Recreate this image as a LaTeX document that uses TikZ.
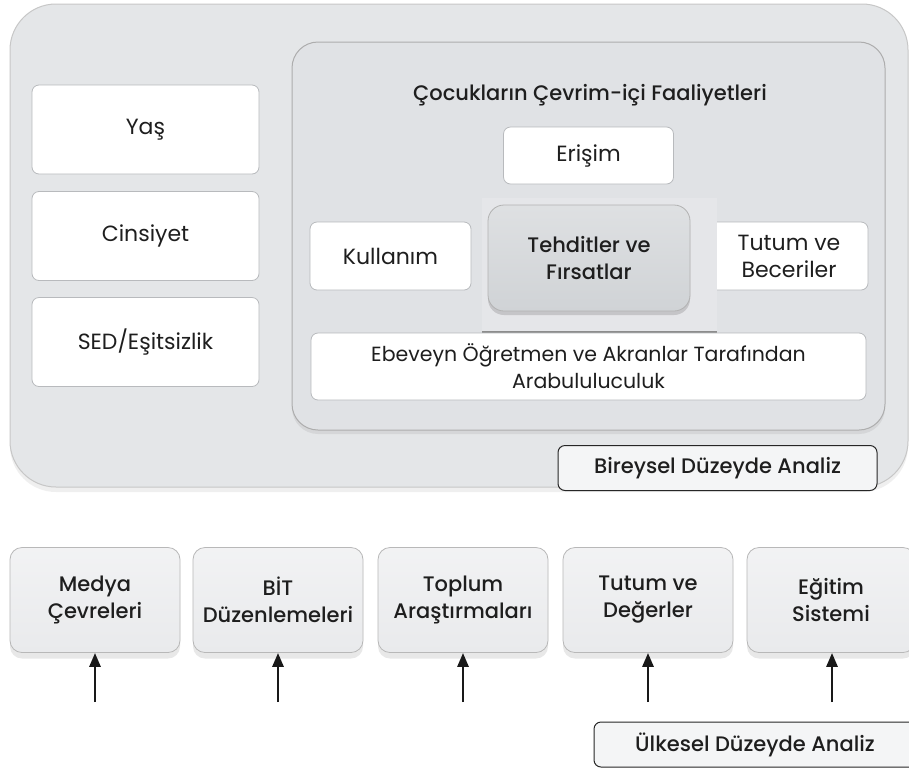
\documentclass[tikz,border=0pt]{standalone}
\usepackage{fontspec}
\setmainfont{Poppins}[BoldFont={Poppins Medium}]
\usetikzlibrary{shadows,arrows.meta}
\definecolor{outerfill}{HTML}{E4E6E8}
\definecolor{innerfill}{HTML}{E0E2E5}
\definecolor{edge}{HTML}{B8BABD}
\definecolor{txt}{HTML}{1E1E1E}
\definecolor{threat}{HTML}{D0D3D6}
\definecolor{botfill}{HTML}{E9EAEC}
\begin{document}
\begin{tikzpicture}[x=1pt,y=-1pt,
  every node/.style={text=txt},
  reg/.style={font=\fontsize{22}{27}\selectfont},
  bld/.style={font=\bfseries\fontsize{21}{27}\selectfont},
  whitebox/.style={draw=edge, fill=white, rounded corners=7pt, line width=0.8pt,
    align=center, inner sep=0pt, reg},
  threatbox/.style={draw=black!30, top color=threat!70, bottom color=threat, rounded corners=16pt,
    line width=0.8pt, align=center, inner sep=0pt, bld,
    drop shadow={shadow xshift=0pt, shadow yshift=-4pt, opacity=0.25, fill=black!60}},
  botbox/.style={draw=black!28, top color=botfill!60, bottom color=botfill, rounded corners=12pt,
    line width=0.8pt, align=center, inner sep=0pt, bld, minimum width=170pt, minimum height=105pt,
    drop shadow={shadow xshift=0pt, shadow yshift=-6pt, opacity=0.18, fill=black!50}},
  labelbox/.style={draw=black!85, fill=white!60!outerfill, rounded corners=7pt, line width=1pt,
    inner sep=0pt, bld},
  arr/.style={line width=2.8pt, -{Triangle[width=11pt,length=14pt]}, black!90}
]
\useasboundingbox (0,0) rectangle (909,769);
\fill[white] (0,0) rectangle (909,769);
% outer panel
\node[draw=black!22, fill=outerfill, rounded corners=46pt, line width=1pt,
  minimum width=898pt, minimum height=483pt, inner sep=0pt,
  drop shadow={shadow xshift=0pt, shadow yshift=-5pt, opacity=0.12, fill=black!50}] (outer) at (459,245.5) {};
% inner panel
\node[draw=black!32, fill=innerfill, rounded corners=26pt, line width=1pt,
  minimum width=593pt, minimum height=388pt, inner sep=0pt,
  drop shadow={shadow xshift=0pt, shadow yshift=-4pt, opacity=0.15, fill=black!50}] (inner) at (588.5,236) {};
% left boxes
\node[whitebox, minimum width=227pt, minimum height=89pt] (yas) at (145.5,129.5) {Yaş};
\node[whitebox, minimum width=227pt, minimum height=89pt] (cins) at (145.5,236) {Cinsiyet};
\node[whitebox, minimum width=227pt, minimum height=89pt] (sed) at (145.5,342) {SED/Eşitsizlik};
% title
\node[bld] (title) at (590,95) {Çocukların Çevrim-içi Faaliyetleri};
% inner boxes
\node[whitebox, minimum width=170pt, minimum height=57pt] (eris) at (588.5,155.5) {Erişim};
\node[whitebox, minimum width=161pt, minimum height=68pt] (kull) at (390.5,256) {Kullanım};
\node[whitebox, minimum width=158pt, minimum height=68pt] (tutb) at (789,256) {Tutum ve\\Beceriler};
% panel behind threats
\node[fill=white!15!innerfill, minimum width=235pt, minimum height=134pt, inner sep=0pt] (tback) at (599.5,265) {};
\draw[black!45, line width=2.2pt] (tback.south west) -- (tback.south east);
\node[threatbox, minimum width=202pt, minimum height=106pt] (threat) at (589,258) {Tehditler ve\\Fırsatlar};
\node[whitebox, minimum width=555pt, minimum height=67pt, font=\fontsize{20.5}{27}\selectfont] (ebev) at (588.5,366.5) {Ebeveyn Öğretmen ve Akranlar Tarafından\\Arabululuculuk};
% individual-level label
\node[labelbox, minimum width=319pt, minimum height=45pt] (birey) at (717.5,468) {Bireysel Düzeyde Analiz};
% bottom boxes
\node[botbox] (m1) at (95,600) {Medya\\Çevreleri};
\node[botbox] (m2) at (278,600) {BİT\\Düzenlemeleri};
\node[botbox] (m3) at (463,600) {Toplum\\Araştırmaları};
\node[botbox] (m4) at (648,600) {Tutum ve\\Değerler};
\node[botbox, text width=152pt, minimum width=168pt] (m5) at (831,600) {Eğitim\\Sistemi};
% arrows
\coordinate (a1) at (95,702);
\coordinate (a2) at (278,702);
\coordinate (a3) at (463,702);
\coordinate (a4) at (648,702);
\coordinate (a5) at (832,702);
\draw[arr] (a1) -- (m1.south);
\draw[arr] (a2) -- (m2.south);
\draw[arr] (a3) -- (m3.south);
\draw[arr] (a4) -- (m4.south);
\draw[arr] (a5) -- (a5 |- m5.south);
% country-level label
\node[labelbox, minimum width=322pt, minimum height=45pt] (ulke) at (755,744.5) {Ülkesel Düzeyde Analiz};
\end{tikzpicture}
\end{document}
